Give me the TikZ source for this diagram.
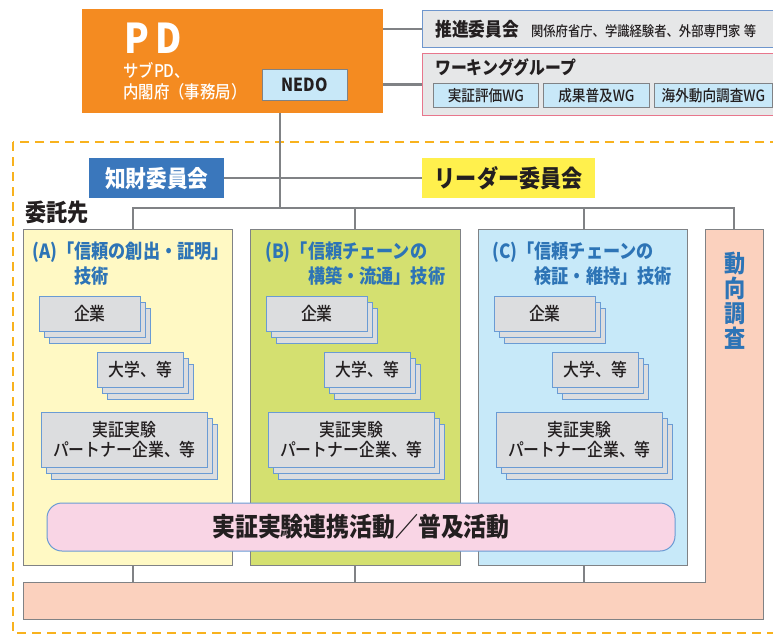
\documentclass[tikz,border=0pt]{standalone}
\usepackage{fontspec}
\setmainfont{Noto Sans CJK JP}[FakeStretch=0.88]
\newfontfamily\jpmed{Noto Sans CJK JP Medium}[FakeStretch=0.88]
\usetikzlibrary{shadows}

\definecolor{pdorange}{RGB}{244,139,33}
\definecolor{linegray}{RGB}{128,130,133}
\definecolor{boxgray}{RGB}{230,231,232}
\definecolor{paleblue}{RGB}{200,232,248}
\definecolor{framepink}{RGB}{232,118,140}
\definecolor{frameblue}{RGB}{110,150,205}
\definecolor{chizaiblue}{RGB}{58,119,188}
\definecolor{leaderyellow}{RGB}{255,240,77}
\definecolor{fillA}{RGB}{255,249,196}
\definecolor{fillB}{RGB}{212,224,112}
\definecolor{fillC}{RGB}{199,233,249}
\definecolor{surveypink}{RGB}{251,209,190}
\definecolor{stackgray}{RGB}{220,221,223}
\definecolor{stackblue}{RGB}{106,155,212}
\definecolor{actpink}{RGB}{249,213,229}
\definecolor{textblue}{RGB}{45,116,182}
\definecolor{dashorange}{RGB}{248,178,30}
\definecolor{ink}{RGB}{35,31,32}

\tikzset{
  conn/.style={draw=linegray,line width=2.5pt},
  thinbox/.style={draw=linegray,line width=0.8pt,anchor=north west,inner sep=0pt},
  techbox/.style={thinbox,minimum width=209pt,minimum height=336pt},
  stackbox/.style={draw=stackblue,fill=stackgray,line width=0.8pt,anchor=north west,
    inner sep=0pt,minimum height=35pt,align=center,text=ink,
    font=\jpmed\fontsize{18}{20}\selectfont,
    double copy shadow={shadow xshift=5pt,shadow yshift=-6pt}},
  wgbox/.style={thinbox,fill=paleblue,minimum height=24pt,text=ink,
    font=\jpmed\fontsize{15.5}{16}\selectfont},
  techtitle/.style={anchor=north west,inner sep=0pt,align=left,text=textblue,
    font=\fontsize{19.5}{25}\selectfont\bfseries},
}

\begin{document}
\begin{tikzpicture}[x=1pt,y=-1pt]
\clip (0,0) rectangle (773,635);
% dashed frame round the contractors
\draw[dashorange,line width=2.5pt,dash pattern=on 9pt off 6pt] (13,142) rectangle (790,633);

% PD block
\node[fill=pdorange,anchor=north west,inner sep=0pt,minimum width=301pt,minimum height=104pt] (pd) at (82,9) {};
\node[anchor=west,inner sep=0pt,text=white,font=\fontsize{41}{41}\selectfont\bfseries] (pdname) at (124,38) {P\hspace{7pt}D};
\node[anchor=north west,inner sep=0pt,align=left,text=white,font=\jpmed\fontsize{17.5}{21}\selectfont] (pdsub) at (123,62) {サブPD、\\内閣府（事務局）};
\node[thinbox,fill=paleblue,minimum width=85pt,minimum height=31pt,text=ink,font=\fontsize{18}{18}\selectfont\bfseries] (nedo) at (262,69) {NEDO};

% committees on the right
\node[anchor=north west,fill=boxgray,draw=frameblue,line width=1pt,minimum width=360pt,minimum height=37pt,
  inner xsep=13pt,inner ysep=0pt,text width=334pt,align=left,text=ink] (suishin) at (422,10)
  {{\fontsize{19}{20}\selectfont\bfseries 推進委員会}\hspace{12pt}{\jpmed\fontsize{14}{16}\selectfont 関係府省庁、学識経験者、外部専門家 等}};
\node[anchor=north west,fill=boxgray,draw=framepink,line width=1pt,minimum width=360pt,minimum height=62pt] (wg) at (422,53) {};
\node[anchor=west,inner sep=0pt,text=ink,font=\fontsize{18}{18}\selectfont\bfseries] (wgtitle) at (435,67) {ワーキンググループ};
\node[wgbox,minimum width=105pt] (wgeval) at (433,83) {実証評価WG};
\node[wgbox,minimum width=106pt] (wgspread) at (543,83) {成果普及WG};
\node[wgbox,minimum width=118pt] (wgabroad) at (654,83) {海外動向調査WG};

\draw[conn] (pd.east |- suishin.west) -- (suishin.west);
\draw[conn] (pd.east |- wg.west) -- (wg.west);

% committees under PD
\node[anchor=north west,fill=chizaiblue,inner sep=0pt,minimum width=135pt,minimum height=40pt,text=white,font=\fontsize{23.5}{24}\selectfont\bfseries] (chizai) at (89,158) {知財委員会};
\node[anchor=north west,fill=leaderyellow,inner sep=0pt,minimum width=173pt,minimum height=40pt,text=ink,font=\fontsize{24}{24}\selectfont\bfseries] (leader) at (422,158) {リーダー委員会};
\coordinate (bus) at (280,208);
\draw[conn] (pd.south -| bus) -- (bus);
\draw[conn] (chizai.east) -- (leader.west);

\node[anchor=west,inner sep=0pt,text=ink,font=\fontsize{24}{24}\selectfont\bfseries] (itaku) at (25,212) {委託先};

% survey band (L shape)
\draw[linegray,line width=0.8pt,fill=surveypink] (705,229) -- (763,229) -- (763,619) -- (23,619) -- (23,582) -- (705,582) -- cycle;
\coordinate (svtop) at (734,229);
\node[align=center,inner sep=0pt,text=textblue,font=\fontsize{24}{25}\selectfont\bfseries] (survey) at (735,301) {動\\向\\調\\査};

% technology boxes
\node[techbox,fill=fillA] (ta) at (23,229) {};
\node[techbox,fill=fillB,minimum width=210pt] (tb) at (250,229) {};
\node[techbox,fill=fillC] (tc) at (478,229) {};
\node[techtitle] (ttla) at (32,242) {(A)「信頼の創出・証明」\\\phantom{(A)「}技術};
\node[techtitle] (ttlb) at (265,242) {(B)「信頼チェーンの\\\phantom{(B)「}構築・流通」技術};
\node[techtitle] (ttlc) at (492,242) {(C)「信頼チェーンの\\\phantom{(C)「}検証・維持」技術};

\foreach \n/\x in {a/23,b/250,c/478} {
  \node[stackbox,minimum width=101pt] (firm\n) at (\x+16,296) {企業};
  \node[stackbox,minimum width=86pt] (univ\n) at (\x+74,352) {大学、等};
  \node[stackbox,minimum width=166pt,minimum height=55pt] (partner\n) at (\x+18,412) {実証実験\\パートナー企業、等};
}

\node[fill=actpink,draw=stackblue,line width=1pt,rounded corners=15pt,minimum width=628pt,minimum height=48pt,
  text=ink,font=\fontsize{26}{26}\selectfont\bfseries] (act) at (361,527) {実証実験連携活動／普及活動};

% connectors to the bus and the band
\coordinate (da) at (133,582);
\coordinate (db) at (355,582);
\coordinate (dc) at (584,582);
\draw[conn] (da |- ta.north) |- (bus);
\draw[conn] (db |- tb.north) |- (bus);
\draw[conn] (dc |- tc.north) |- (bus);
\draw[conn] (svtop) |- (bus);
\draw[conn] (da |- ta.south) -- (da);
\draw[conn] (db |- tb.south) -- (db);
\draw[conn] (dc |- tc.south) -- (dc);
\end{tikzpicture}
\end{document}
